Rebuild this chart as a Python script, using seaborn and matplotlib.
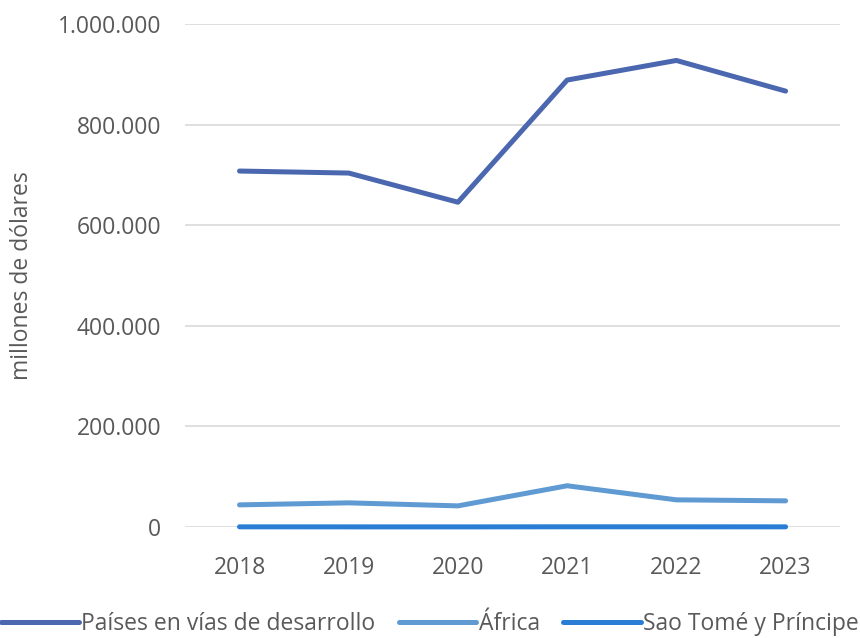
import pandas as pd
import seaborn as sns
import matplotlib.pyplot as plt
from matplotlib.ticker import FuncFormatter

# data (millones de dólares)
years = ['2018', '2019', '2020', '2021', '2022', '2023']
desarrollo = [708000, 704000, 646000, 889000, 928000, 867000]
africa = [44000, 48000, 42000, 82000, 54000, 52000]
santo_tome = [300, 250, 200, 400, 350, 300]
series_names = ['Países en vías de desarrollo', 'África', 'Sao Tomé y Príncipe']
colors = ['#4A67AF', '#5F9BD2', '#2A7DD4']

df = pd.DataFrame({
    'year': years * 3,
    'value': desarrollo + africa + santo_tome,
    'serie': [series_names[0]] * 6 + [series_names[1]] * 6 + [series_names[2]] * 6,
})

sns.set_theme(style='white')
plt.rcParams['font.family'] = ['Open Sans', 'DejaVu Sans']
txt = '#595959'

fig = plt.figure(figsize=(8.6, 6.38), dpi=100)
ax = fig.add_axes([0.215, 0.174, 0.762, 0.788])

sns.lineplot(data=df, x='year', y='value', hue='serie', palette=colors,
             linewidth=3.6, ax=ax, legend=True, solid_capstyle='round')
for ln in ax.lines:
    ln.set_clip_on(False)

ax.set_xlim(-0.5, 5.5)
ax.set_ylim(0, 1000000)
ax.set_yticks([0, 200000, 400000, 600000, 800000, 1000000])
ax.yaxis.set_major_formatter(FuncFormatter(lambda v, p: f'{v:,.0f}'.replace(',', '.')))
ax.grid(axis='y', color='#D9D9D9', linewidth=1.2)
ax.set_axisbelow(True)
for s in ax.spines.values():
    s.set_visible(False)
ax.tick_params(axis='both', colors=txt, labelsize=16.5, length=0)
ax.tick_params(axis='y', pad=17)
ax.tick_params(axis='x', pad=21)
ax.set_xlabel('')
ax.set_ylabel('millones de dólares', color=txt, fontsize=16.5, labelpad=17)

handles, labels = ax.get_legend_handles_labels()
ax.get_legend().remove()
fig.legend(handles, labels, loc='center', bbox_to_anchor=(0.5, 0.022), ncol=3,
           frameon=False, fontsize=16.5, handlelength=3.4, handletextpad=0.1,
           columnspacing=1.0, labelcolor=txt)

fig.savefig('out.png', dpi=100)
